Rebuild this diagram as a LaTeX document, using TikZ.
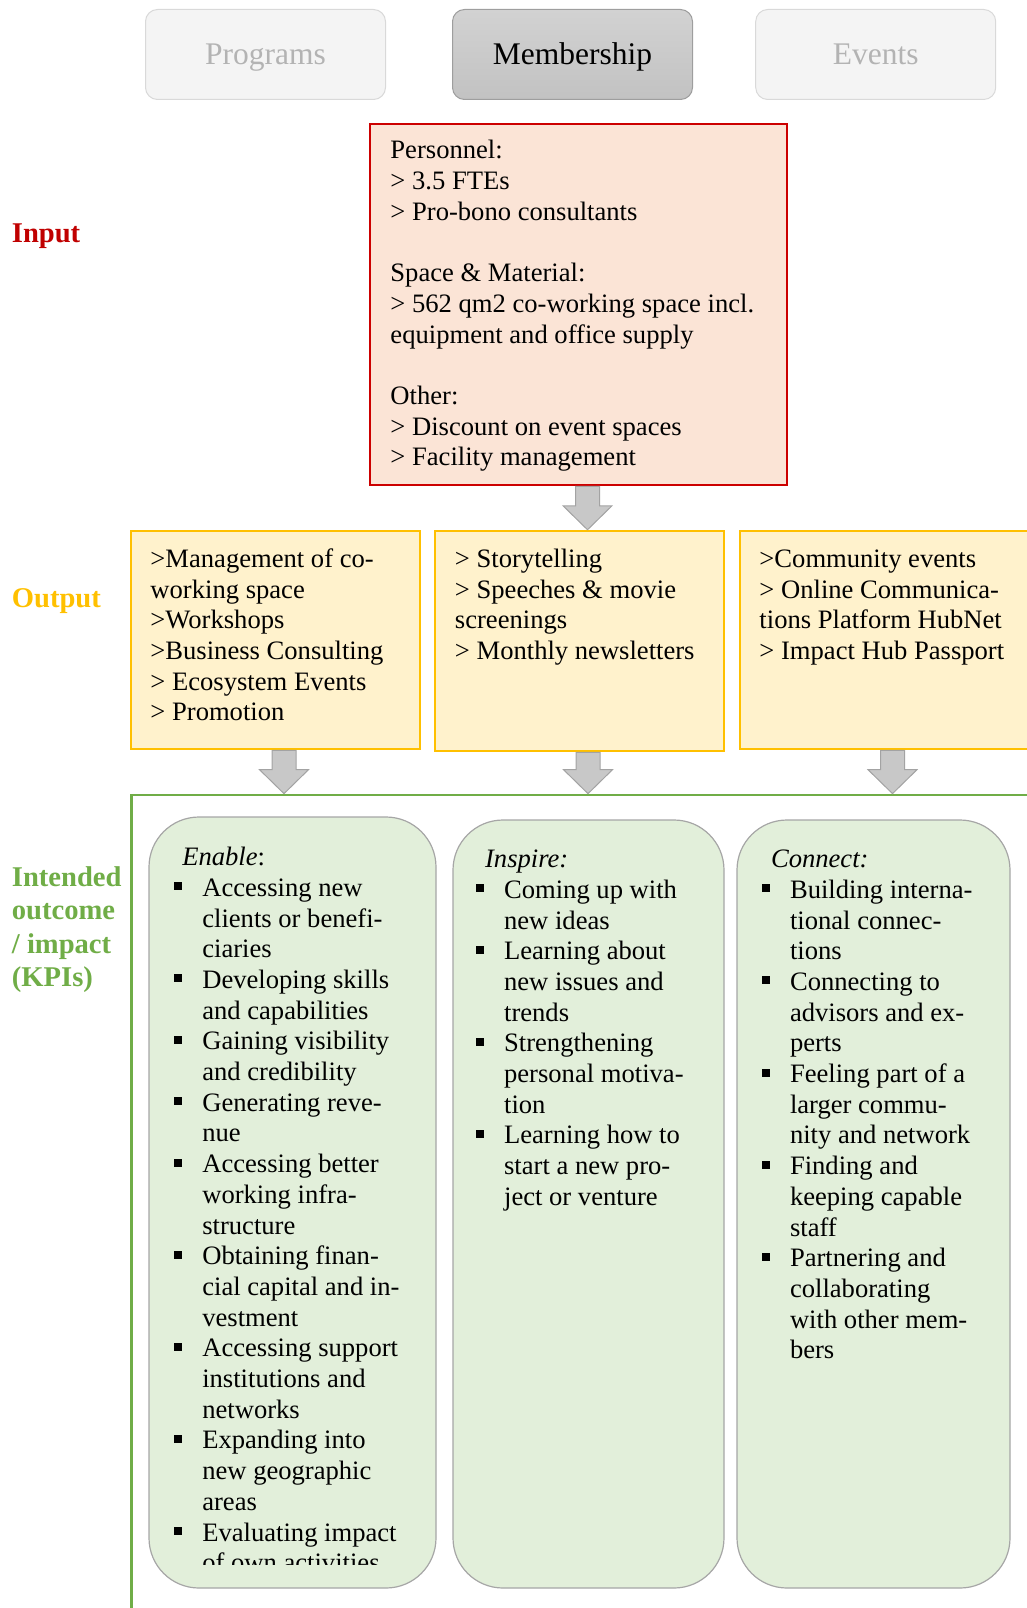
\documentclass[tikz,border=0pt]{standalone}
\usepackage{fontspec}
\setmainfont{Liberation Serif}
\usetikzlibrary{calc}

% palette
\definecolor{tabfill}{HTML}{F4F4F4}
\definecolor{tabline}{HTML}{D9D9D9}
\definecolor{tabtext}{HTML}{B3B3B3}
\definecolor{tabactivetop}{HTML}{D2D2D2}
\definecolor{tabactivebot}{HTML}{C2C2C2}
\definecolor{tabactiveline}{HTML}{9E9E9E}
\definecolor{inputfill}{HTML}{FBE4D6}
\definecolor{inputline}{HTML}{CC0000}
\definecolor{inputlabel}{HTML}{C00000}
\definecolor{outputfill}{HTML}{FFF2CC}
\definecolor{outputline}{HTML}{FFC000}
\definecolor{kpigreen}{HTML}{70AD47}
\definecolor{kpifill}{HTML}{E2EFDA}
\definecolor{kpiline}{HTML}{A6A6A6}
\definecolor{arrowfill}{HTML}{C8C8C8}
\definecolor{arrowline}{HTML}{A3A3A3}

% list helpers: square bullet and continuation indent
\newcommand{\sqbul}{\makebox[28pt][l]{\rule[6pt]{8pt}{8pt}}}
\newcommand{\cnt}{\hspace*{28pt}}

% downward block arrow from a top point to a tip point
\newcommand{\blockdown}[2]{%
  \path[blockarrow] let \p1=(#1), \p2=(#2) in
    (\x1-12pt,\y1) -- (\x1+12pt,\y1) -- (\x1+12pt,\y2+24pt)
    -- (\x1+24.5pt,\y2+24pt) -- (\x1,\y2) -- (\x1-24.5pt,\y2+24pt)
    -- (\x1-12pt,\y2+24pt) -- cycle;}

\tikzset{
  tabbox/.style={rounded corners=12pt, minimum width=240pt, minimum height=90pt,
    inner sep=0pt, line width=1pt, font=\fontsize{31.5}{36}\selectfont,
    text height=28pt, text depth=7pt},
  tabidle/.style={tabbox, draw=tabline, fill=tabfill, text=tabtext},
  tabactive/.style={tabbox, draw=tabactiveline, top color=tabactivetop,
    bottom color=tabactivebot, text=black},
  inputbox/.style={draw=inputline, fill=inputfill, line width=2.5pt, inner sep=0pt},
  outputbox/.style={draw=outputline, fill=outputfill, line width=2.5pt, inner sep=0pt,
    minimum width=289pt},
  kpiframe/.style={draw=kpigreen, line width=2.7pt, inner sep=0pt},
  kpibox/.style={draw=kpiline, fill=kpifill, line width=1.2pt, rounded corners=50pt,
    inner sep=0pt},
  body/.style={font=\fontsize{26.6}{30.7}\selectfont, align=left, inner sep=0pt,
    anchor=north west},
  rowlabel/.style={font=\fontsize{28.6}{33.5}\selectfont\bfseries, align=left,
    inner sep=0pt},
  blockarrow/.style={fill=arrowfill, draw=arrowline, line width=1pt, line join=miter},
}

\begin{document}
\begin{tikzpicture}[x=1pt, y=-1pt]
  \useasboundingbox (0,0) rectangle (1026,1608);

  % top tabs
  \node[tabidle]   (programs)   at (265.5,54.5) {Programs};
  \node[tabactive] (membership) at (572.5,54.5) {Membership};
  \node[tabidle]   (events)     at (875.7,54.5) {Events};

  % row labels
  \node[rowlabel, text=inputlabel,  anchor=base west] (lblinput)  at (11.7,242) {Input};
  \node[rowlabel, text=outputline, anchor=base west] (lbloutput) at (11.7,607) {Output};
  \node[rowlabel, text=kpigreen, anchor=north west] (lblkpi) at (11.7,862.5)
    {\strut Intended\\outcome\\/ impact\\(KPIs)};

  % input
  \node[inputbox, minimum width=417pt, minimum height=361pt] (input) at (578.5,304.5) {};
  \node[body] (inputtxt) at ($(input.north west)+(21.5,14.5)$)
    {\strut Personnel:\\
     > 3.5 FTEs\\
     > Pro-bono consultants\\
     \mbox{}\\
     Space \& Material:\\
     > 562 qm2 co-working space incl.\\
     equipment and office supply\\
     \mbox{}\\
     Other:\\
     > Discount on event spaces\\
     > Facility management};

  % outputs
  \node[outputbox, minimum height=218pt] (out1) at (275.5,640) {};
  \node[outputbox, minimum height=220pt] (out2) at (579.5,641) {};
  \node[outputbox, minimum height=218pt] (out3) at (884.5,640) {};
  \node[body] (out1txt) at ($(out1.north west)+(20.5,16)$)
    {\strut >Management of co-\\
     working space\\
     >Workshops\\
     >Business Consulting\\
     > Ecosystem Events\\
     > Promotion};
  \node[body] (out2txt) at ($(out2.north west)+(21,16)$)
    {\strut > Storytelling\\
     > Speeches \& movie\\
     screenings\\
     > Monthly newsletters};
  \node[body] (out3txt) at ($(out3.north west)+(20.5,16)$)
    {\strut >Community events\\
     > Online Communica-\\
     tions Platform HubNet\\
     > Impact Hub Passport};

  % intended outcome frame and columns
  \node[kpiframe, minimum width=968pt, minimum height=905pt] (kpi) at (615.7,1247.5) {};
  \node[kpibox, minimum width=287pt, minimum height=771pt] (enable)  at (292.5,1202.5) {};
  \node[kpibox, minimum width=271pt, minimum height=768pt] (inspire) at (588.5,1204) {};
  \node[kpibox, minimum width=273pt, minimum height=768pt] (connect) at (873.5,1204) {};

  \begin{scope}
    \clip (140,800) rectangle (450,1564);
    \node[body] (enabletxt) at ($(enable.north west)+(25.7,27.5)$)
      {\strut\hspace*{8pt}\textit{Enable}:\\
       \sqbul Accessing new\\
       \cnt clients or benefi-\\
       \cnt ciaries\\
       \sqbul Developing skills\\
       \cnt and capabilities\\
       \sqbul Gaining visibility\\
       \cnt and credibility\\
       \sqbul Generating reve-\\
       \cnt nue\\
       \sqbul Accessing better\\
       \cnt working infra-\\
       \cnt structure\\
       \sqbul Obtaining finan-\\
       \cnt cial capital and in-\\
       \cnt vestment\\
       \sqbul Accessing support\\
       \cnt institutions and\\
       \cnt networks\\
       \sqbul Expanding into\\
       \cnt new geographic\\
       \cnt areas\\
       \sqbul Evaluating impact\\
       \cnt of own activities};
  \end{scope}

  \node[body] (inspiretxt) at ($(inspire.north west)+(23.5,26.5)$)
    {\strut\hspace*{9pt}\textit{Inspire:}\\
     \sqbul Coming up with\\
     \cnt new ideas\\
     \sqbul Learning about\\
     \cnt new issues and\\
     \cnt trends\\
     \sqbul Strengthening\\
     \cnt personal motiva-\\
     \cnt tion\\
     \sqbul Learning how to\\
     \cnt start a new pro-\\
     \cnt ject or venture};

  \node[body] (connecttxt) at ($(connect.north west)+(25.4,26.5)$)
    {\strut\hspace*{9pt}\textit{Connect:}\\
     \sqbul Building interna-\\
     \cnt tional connec-\\
     \cnt tions\\
     \sqbul Connecting to\\
     \cnt advisors and ex-\\
     \cnt perts\\
     \sqbul Feeling part of a\\
     \cnt larger commu-\\
     \cnt nity and network\\
     \sqbul Finding and\\
     \cnt keeping capable\\
     \cnt staff\\
     \sqbul Partnering and\\
     \cnt collaborating\\
     \cnt with other mem-\\
     \cnt bers};

  % block arrows between rows
  \coordinate (inTop)  at ($(input.south)+(9,0)$);
  \coordinate (inTip)  at (inTop |- out2.north);
  \coordinate (o1Top)  at ($(out1.south)+(8.5,0)$);
  \coordinate (o1Tip)  at (o1Top |- kpi.north);
  \coordinate (o2Top)  at ($(out2.south)+(8.5,0)$);
  \coordinate (o2Tip)  at (o2Top |- kpi.north);
  \coordinate (o3Top)  at ($(out3.south)+(8,0)$);
  \coordinate (o3Tip)  at (o3Top |- kpi.north);
  \blockdown{inTop}{inTip}
  \blockdown{o1Top}{o1Tip}
  \blockdown{o2Top}{o2Tip}
  \blockdown{o3Top}{o3Tip}
\end{tikzpicture}
\end{document}
